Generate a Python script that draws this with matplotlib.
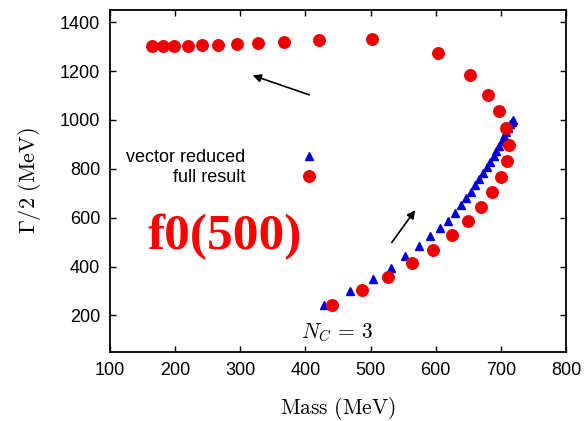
import matplotlib
matplotlib.use("Agg")
import matplotlib.pyplot as plt

# Pole trajectory of f0(500): vector reduced vs full result
vec_mass = [429, 469, 503, 532, 553, 574, 591, 606, 619, 629, 639, 647, 654, 661,
            667, 673, 679, 684, 689, 693, 697, 701, 705, 708, 711, 714, 717, 719]
vec_width = [243, 299, 348, 394, 444, 483, 524, 557, 588, 620, 653, 680, 706, 732,
             757, 782, 806, 829, 852, 874, 895, 915, 934, 952, 968, 982, 992, 998]

full_mass = [441, 487, 527, 564, 596, 625, 649, 670, 687, 700, 709, 712, 708, 697,
             680, 653, 603, 502, 421, 367, 327, 295, 266, 241, 219, 199, 181, 164]
full_width = [241, 302, 357, 413, 468, 527, 585, 644, 703, 766, 833, 899, 967, 1036,
              1104, 1186, 1275, 1330, 1328, 1320, 1315, 1310, 1307, 1305, 1304, 1303, 1302, 1302]

xticks = [100, 200, 300, 400, 500, 600, 700, 800]
yticks = [200, 400, 600, 800, 1000, 1200, 1400]

plt.rcParams['mathtext.fontset'] = 'cm'

fig = plt.figure(figsize=(5.86, 4.21), dpi=100)
ax = fig.add_axes([0.1877, 0.1639, 0.7782, 0.8123])

ax.plot(vec_mass, vec_width, ls='none', marker='^', ms=6, color='#0000dd',
        label='vector reduced')
ax.plot(full_mass, full_width, ls='none', marker='o', ms=8.3, color='#ee0000',
        label='full result')

ax.set_xlim(100, 800)
ax.set_ylim(50, 1450)
ax.set_xticks(xticks)
ax.set_yticks(yticks)
ax.tick_params(direction='in', top=True, right=True, length=4, width=1,
               labelsize=13, pad=7)
for lab in ax.get_xticklabels() + ax.get_yticklabels():
    lab.set_fontfamily('Liberation Sans')
for s in ax.spines.values():
    s.set_linewidth(1.3)

ax.set_xlabel(r'$\mathrm{Mass\ (MeV)}$', fontsize=15.5, labelpad=12)
ax.set_ylabel(r'$\Gamma/2\ \mathrm{(MeV)}$', fontsize=16, labelpad=12)

leg = ax.legend(loc='upper left', bbox_to_anchor=(0.0, 0.64), markerfirst=False,
                frameon=False, handletextpad=3.0, handlelength=1,
                prop={'family': 'Liberation Sans', 'size': 13}, labelspacing=0.15)
for t in leg.get_texts():
    t.set_ha('right')

ax.annotate('', xy=(315, 1186), xytext=(410, 1099),
            arrowprops=dict(arrowstyle='-|>', color='black', lw=1.2, mutation_scale=12))
ax.annotate('', xy=(571, 640), xytext=(530, 489),
            arrowprops=dict(arrowstyle='-|>', color='black', lw=1.2, mutation_scale=12))

ax.text(449, 130, r'$N_C\,=\,3$', fontsize=15.5, ha='center', va='center')
ax.text(157, 522, 'f0(500)', fontsize=37, fontweight='bold', color='#ff0000',
        family='Liberation Serif', ha='left', va='center')

fig.savefig('out.png', dpi=100)
